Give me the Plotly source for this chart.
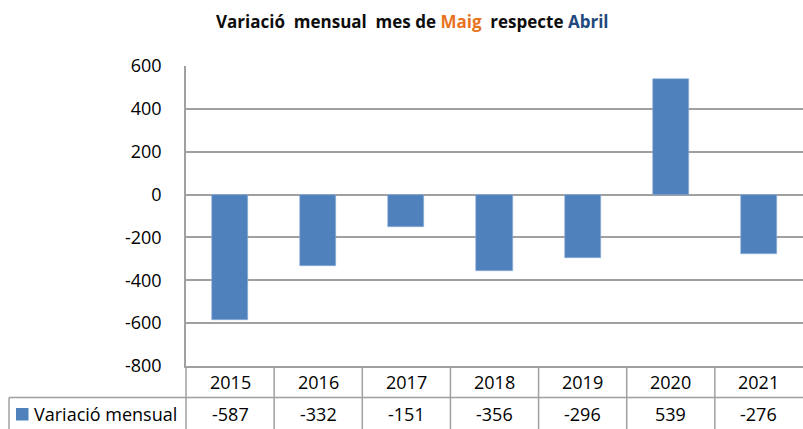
import plotly.graph_objects as go

years = ["2015", "2016", "2017", "2018", "2019", "2020", "2021"]
values = [-587, -332, -151, -356, -296, 539, -276]
series_name = "Variació mensual"
y_ticks = [600, 400, 200, 0, -200, -400, -600, -800]
y_tick_labels = ["600", "400", "200", "0", "-200", "-400", "-600", "-800"]

W, H = 803, 429
L, R, T, B = 186, 0, 66, 63
PW, PH = W - L - R, H - T - B
FONT = "Open Sans"
BAR = "#4F81BD"
GRID = "#A0A0A0"

def px_x(p):
    return (p - L) / PW

def px_y(p):
    return 1 - (p - T) / PH

fig = go.Figure()
fig.add_trace(go.Bar(x=years, y=values, name=series_name, marker=dict(color=BAR, line=dict(color="#8DB0DB", width=0.6)),
                     width=0.41, showlegend=False))

shapes = []
annotations = []
row_mid = 397.5
shapes.append(dict(type="line", xref="paper", yref="paper", x0=px_x(9), x1=1, y0=px_y(row_mid), y1=px_y(row_mid),
                   line=dict(color=GRID, width=1.5)))
for i in range(1, len(years)):
    shapes.append(dict(type="line", xref="x", yref="paper", x0=i - 0.5, x1=i - 0.5, y0=px_y(366), y1=px_y(H + 2),
                       line=dict(color=GRID, width=1.5)))
shapes.append(dict(type="line", xref="paper", yref="paper", x0=0, x1=0, y0=px_y(366), y1=px_y(H + 2),
                   line=dict(color=GRID, width=1.5)))
shapes.append(dict(type="line", xref="paper", yref="paper", x0=px_x(9), x1=px_x(9), y0=px_y(row_mid), y1=px_y(H + 2),
                   line=dict(color=GRID, width=1.5)))
shapes.append(dict(type="rect", xref="paper", yref="paper", x0=px_x(16), x1=px_x(28.5), y0=px_y(408), y1=px_y(420.5),
                   fillcolor=BAR, line=dict(width=0)))

for i, (yr, v) in enumerate(zip(years, values)):
    annotations.append(dict(x=i, xref="x", y=px_y(382), yref="paper", text=yr, showarrow=False,
                            xanchor="center", yanchor="middle", font=dict(family=FONT, size=18, color="#000")))
    annotations.append(dict(x=i, xref="x", y=px_y(413.5), yref="paper", text=str(v), showarrow=False,
                            xanchor="center", yanchor="middle", font=dict(family=FONT, size=18, color="#000")))

annotations.append(dict(x=px_x(32), xref="paper", y=px_y(413.5), yref="paper", text=series_name, showarrow=False,
                        xanchor="left", yanchor="middle", font=dict(family=FONT, size=18, color="#000")))

nb = "\u00a0"
title = (f"<b>Variació{nb} mensual{nb} mes de <span style='color:#E8731E'>Maig</span>{nb} respecte "
         f"<span style='color:#1F497D'>Abril</span></b>")
annotations.append(dict(x=px_x(412), xref="paper", y=px_y(21), yref="paper", text=title, showarrow=False,
                        xanchor="center", yanchor="middle", font=dict(family=FONT, size=17, color="#0D0D0D")))

fig.update_layout(
    width=W, height=H, margin=dict(l=L, r=R, t=T, b=B, pad=0),
    paper_bgcolor="white", plot_bgcolor="white",
    shapes=shapes, annotations=annotations, bargap=0,
    xaxis=dict(type="category", range=[-0.5, len(years) - 0.5], showticklabels=False, showgrid=False,
               zeroline=False, showline=True, linecolor=GRID, linewidth=1.5, ticks=""),
    yaxis=dict(range=[-800, 600], tickvals=y_ticks, ticktext=y_tick_labels, showgrid=True, gridcolor=GRID,
               gridwidth=1.5, zeroline=False, showline=True, linecolor=GRID, linewidth=1.5, ticks="",
               ticklabelstandoff=19, tickfont=dict(family=FONT, size=18, color="#000")),
)

fig.write_html("out.html")
